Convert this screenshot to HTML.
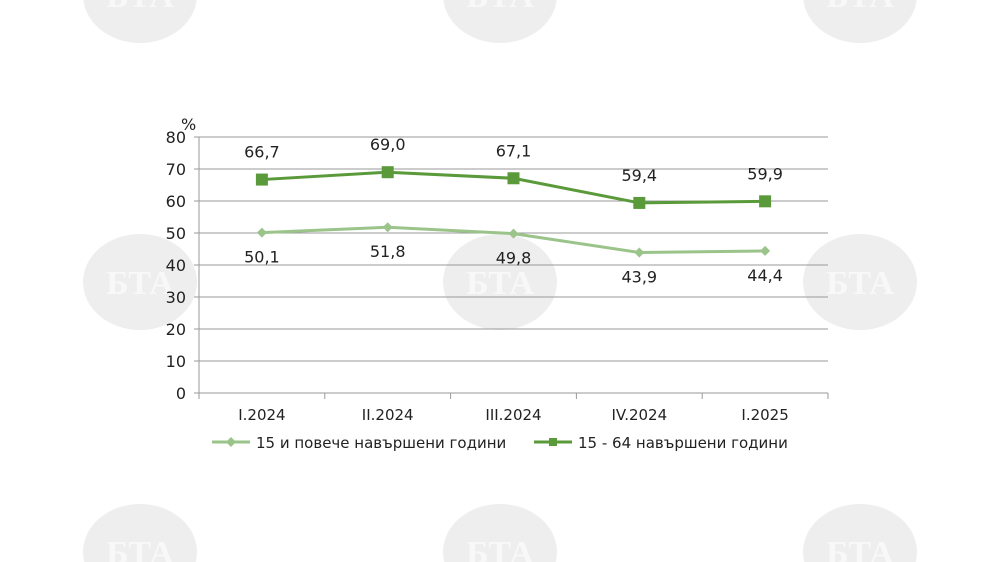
<!DOCTYPE html>
<html><head><meta charset="utf-8"><style>
html,body{margin:0;padding:0;background:#fff;width:1000px;height:562px;overflow:hidden;}
svg{display:block;font-family:"DejaVu Sans","Liberation Sans",sans-serif;overflow:hidden;}
</style></head><body>
<svg width="1000" height="562" viewBox="0 0 1000 562">
<g id="wm"></g>
<g id="grid"></g>
<g id="axes"></g>
<g id="series"></g>
<g id="legend"></g>
</svg>
<script>
const categories = ["I.2024","II.2024","III.2024","IV.2024","I.2025"];
const seriesAll = [50.1, 51.8, 49.8, 43.9, 44.4];
const series1564 = [66.7, 69.0, 67.1, 59.4, 59.9];
const yTicks = [0,10,20,30,40,50,60,70,80];
const seriesNames = ["15 и повече навършени години","15 - 64 навършени години"];

const NS="http://www.w3.org/2000/svg";
const X0=199,X1=828,Y0=393,Y1=137,YMAX=80;
const bw=(X1-X0)/categories.length;
const xPos=i=>X0+bw*(i+0.5);
const yPos=v=>Y0-(v/YMAX)*(Y0-Y1);
function mk(tag,attrs,parent,text){const e=document.createElementNS(NS,tag);for(const k in attrs)e.setAttribute(k,attrs[k]);if(text!==undefined)e.textContent=text;parent.appendChild(e);return e;}
const fmt=v=>v.toFixed(1).replace('.',',');

// watermarks
const wm=document.getElementById('wm');
[[140,-5],[500,-5],[860,-5],[140,282],[500,282],[860,282],[140,552],[500,552],[860,552]].forEach(([cx,cy])=>{
  const el=mk('ellipse',{cx:cx,cy:cy,rx:57,ry:48,fill:'#eeeeee'},wm);
  
  
  const t=mk('text',{x:cx,y:cy+12,'text-anchor':'middle','font-size':34,'font-weight':'bold',fill:'#f8f8f8','font-family':'Liberation Serif, serif'},wm,'БТА');
  
  
});

// grid and y ticks
const grid=document.getElementById('grid'),axes=document.getElementById('axes');
yTicks.forEach(v=>{
  const y=yPos(v);
  if(v>0){const l=mk('line',{x1:X0,x2:X1,y1:y,y2:y,stroke:'#9a9a9a','stroke-width':1},grid);
  
  }
  const tk=mk('line',{x1:X0-5,x2:X0,y1:y,y2:y,stroke:'#9a9a9a'},axes);
  
  
  const t=mk('text',{x:X0-13,y:y+6,'text-anchor':'end','font-size':16,fill:'#222'},axes,String(v));
  
  
});
const yt=mk('text',{x:181,y:130,'font-size':16,fill:'#222'},axes,'%');


const ya=mk('line',{x1:X0,x2:X0,y1:Y1,y2:Y0,stroke:'#9a9a9a'},axes);


const xa=mk('line',{x1:X0,x2:X1,y1:Y0,y2:Y0,stroke:'#9a9a9a'},axes);


for(let i=0;i<=categories.length;i++){
  const x=X0+bw*i;
  const tk=mk('line',{x1:x,x2:x,y1:Y0,y2:Y0+6,stroke:'#9a9a9a'},axes);
  
  
}
categories.forEach((c,i)=>{
  const t=mk('text',{x:xPos(i),y:420,'text-anchor':'middle','font-size':15,fill:'#222'},axes,c);
  
  
});

// series
const sg=document.getElementById('series');
function drawSeries(vals,color,marker,labelDy,name){
  const pts=vals.map((v,i)=>xPos(i)+','+yPos(v)).join(' ');
  const pl=mk('polyline',{points:pts,fill:'none',stroke:color,'stroke-width':3},sg);
  
  
  vals.forEach((v,i)=>{
    const x=xPos(i),y=yPos(v);
    let m;
    if(marker==='square') m=mk('rect',{x:x-6,y:y-6,width:12,height:12,fill:color},sg);
    else m=mk('polygon',{points:`${x},${y-5} ${x+5},${y} ${x},${y+5} ${x-5},${y}`,fill:color},sg);
    
    
    const t=mk('text',{x:x,y:y+labelDy,'text-anchor':'middle','font-size':16,fill:'#222'},sg,fmt(v));
    
    
  });
}
drawSeries(seriesAll,'#9bc48a','diamond',30,'series-15-plus');
drawSeries(series1564,'#5a9a3a','square',-22,'series-15-64');

// legend
const lg=document.getElementById('legend');
[[212,'#9bc48a','diamond',seriesNames[0]],[534,'#5a9a3a','square',seriesNames[1]]].forEach(([x,c,m,n],k)=>{
  const l=mk('line',{x1:x,x2:x+38,y1:442,y2:442,stroke:c,'stroke-width':3},lg);
  
  
  const cx=x+19;
  let mm;
  if(m==='square') mm=mk('rect',{x:cx-4,y:438,width:8,height:8,fill:c},lg);
  else mm=mk('polygon',{points:`${cx},437 ${cx+5},442 ${cx},447 ${cx-5},442`,fill:c},lg);
  
  
  const t=mk('text',{x:x+44,y:448,'font-size':15,fill:'#222'},lg,n);
  
  
});
</script>
</body></html>
